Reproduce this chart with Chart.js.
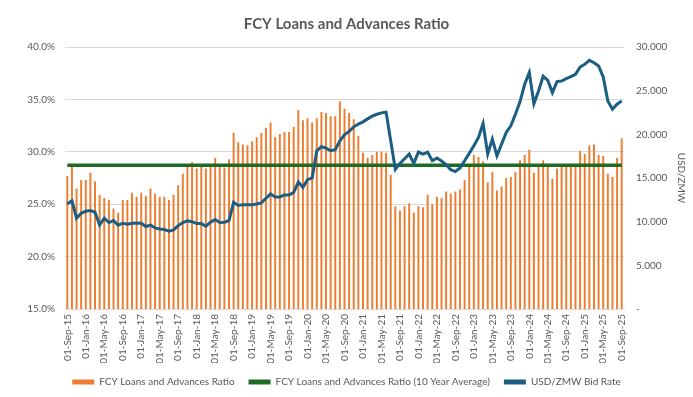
<!DOCTYPE html>
<html>
<head>
<meta charset="utf-8">
<script src="https://cdn.jsdelivr.net/npm/chart.js@4.4.1/dist/chart.umd.min.js"></script>
<style>
  html, body { margin: 0; padding: 0; background: #ffffff; }
  #wrap { width: 693px; height: 397px; position: relative; }
</style>
</head>
<body>
<div id="wrap"><canvas id="c" width="693" height="397"></canvas></div>
<script>
const months = [
  '01-Sep-15','01-Oct-15','01-Nov-15','01-Dec-15',
  '01-Jan-16','01-Feb-16','01-Mar-16','01-Apr-16','01-May-16','01-Jun-16','01-Jul-16','01-Aug-16','01-Sep-16','01-Oct-16','01-Nov-16','01-Dec-16',
  '01-Jan-17','01-Feb-17','01-Mar-17','01-Apr-17','01-May-17','01-Jun-17','01-Jul-17','01-Aug-17','01-Sep-17','01-Oct-17','01-Nov-17','01-Dec-17',
  '01-Jan-18','01-Feb-18','01-Mar-18','01-Apr-18','01-May-18','01-Jun-18','01-Jul-18','01-Aug-18','01-Sep-18','01-Oct-18','01-Nov-18','01-Dec-18',
  '01-Jan-19','01-Feb-19','01-Mar-19','01-Apr-19','01-May-19','01-Jun-19','01-Jul-19','01-Aug-19','01-Sep-19','01-Oct-19','01-Nov-19','01-Dec-19',
  '01-Jan-20','01-Feb-20','01-Mar-20','01-Apr-20','01-May-20','01-Jun-20','01-Jul-20','01-Aug-20','01-Sep-20','01-Oct-20','01-Nov-20','01-Dec-20',
  '01-Jan-21','01-Feb-21','01-Mar-21','01-Apr-21','01-May-21','01-Jun-21','01-Jul-21','01-Aug-21','01-Sep-21','01-Oct-21','01-Nov-21','01-Dec-21',
  '01-Jan-22','01-Feb-22','01-Mar-22','01-Apr-22','01-May-22','01-Jun-22','01-Jul-22','01-Aug-22','01-Sep-22','01-Oct-22','01-Nov-22','01-Dec-22',
  '01-Jan-23','01-Feb-23','01-Mar-23','01-Apr-23','01-May-23','01-Jun-23','01-Jul-23','01-Aug-23','01-Sep-23','01-Oct-23','01-Nov-23','01-Dec-23',
  '01-Jan-24','01-Feb-24','01-Mar-24','01-Apr-24','01-May-24','01-Jun-24','01-Jul-24','01-Aug-24','01-Sep-24','01-Oct-24','01-Nov-24','01-Dec-24',
  '01-Jan-25','01-Feb-25','01-Mar-25','01-Apr-25','01-May-25','01-Jun-25','01-Jul-25','01-Aug-25','01-Sep-25'
];

// FCY Loans and Advances Ratio (%)
const fcyRatio = [
  27.7, 28.8, 26.5, 27.3, 27.3, 28.0, 27.2, 25.9, 25.6, 25.4,
  24.6, 24.2, 25.4, 25.4, 26.1, 25.7, 26.1, 25.8, 26.5, 26.0,
  25.7, 25.7, 25.4, 25.9, 26.8, 27.9, 28.6, 29.0, 28.4, 28.7,
  28.4, 28.7, 29.4, 28.7, 28.5, 29.3, 31.8, 30.9, 30.7, 30.6,
  31.0, 31.4, 31.8, 32.3, 32.8, 31.4, 31.7, 31.9, 31.9, 32.4,
  34.0, 33.0, 33.2, 32.8, 33.2, 33.8, 33.7, 33.4, 33.4, 34.8,
  34.1, 33.7, 33.1, 31.5, 29.9, 29.4, 29.7, 30.0, 30.0, 29.9,
  27.8, 24.8, 24.4, 24.8, 25.1, 24.2, 24.8, 24.7, 25.9, 25.0,
  25.7, 25.6, 26.2, 26.0, 26.2, 26.4, 27.3, 28.7, 29.7, 29.5,
  29.1, 27.1, 28.1, 26.3, 26.7, 27.5, 27.6, 28.1, 29.2, 29.7,
  30.2, 28.0, 28.6, 29.2, 28.6, 27.4, 28.4, 28.6, 28.6, 28.6,
  28.6, 30.1, 29.8, 30.6, 30.7, 29.7, 29.6, 27.9, 27.6, 29.4,
  31.3
];

// FCY Loans and Advances Ratio (10 Year Average, %)
const tenYearAverage = 28.72;

// USD/ZMW Bid Rate
const usdZmw = [
  12.03, 12.40, 10.40, 10.96, 11.20, 11.27, 11.08, 9.63, 10.40, 9.90,
  10.13, 9.60, 9.82, 9.70, 9.82, 9.86, 9.82, 9.44, 9.60, 9.29,
  9.17, 9.10, 8.90, 9.06, 9.55, 9.90, 10.09, 10.00, 9.78, 9.78,
  9.48, 9.94, 10.24, 9.90, 9.94, 10.13, 12.22, 11.86, 11.95, 11.95,
  11.95, 12.03, 12.14, 12.68, 13.17, 12.83, 12.83, 13.06, 13.06, 13.36,
  14.54, 13.93, 14.81, 15.00, 18.12, 18.58, 18.42, 18.12, 18.23, 19.26,
  19.95, 20.33, 20.86, 21.17, 21.43, 21.77, 22.08, 22.30, 22.46, 22.53,
  19.26, 15.99, 16.67, 17.20, 17.74, 16.67, 17.97, 17.74, 17.97, 16.98,
  17.28, 16.94, 16.52, 15.95, 15.74, 16.14, 16.98, 17.82, 18.69, 19.64,
  21.24, 17.74, 19.45, 17.55, 18.88, 20.21, 20.97, 22.30, 23.75, 25.73,
  27.07, 23.52, 24.97, 26.65, 26.19, 24.78, 26.04, 26.11, 26.38, 26.60,
  26.87, 27.71, 28.02, 28.47, 28.20, 27.83, 26.57, 23.83, 22.88, 23.45,
  23.83
];

const leftTicks = [15, 20, 25, 30, 35, 40];
const rightTicks = [0, 5, 10, 15, 20, 25, 30];

const FONT = "Lato, 'Open Sans', sans-serif";
const GREY = '#595959';
const ORANGE = '#ED7D31';
const GREEN = '#1F6B24';
const BLUE = '#1B5E82';

const avgLine = months.map(() => tenYearAverage);

new Chart(document.getElementById('c'), {
  data: {
    labels: months,
    datasets: [
      {
        type: 'bar',
        label: 'FCY Loans and Advances Ratio',
        data: fcyRatio,
        backgroundColor: ORANGE,
        borderWidth: 0,
        barPercentage: 0.9,
        categoryPercentage: 0.47,
        yAxisID: 'y',
        order: 3
      },
      {
        type: 'line',
        label: 'FCY Loans and Advances Ratio (10 Year Average)',
        data: avgLine,
        borderColor: GREEN,
        backgroundColor: GREEN,
        borderWidth: 3.5,
        pointRadius: 0,
        yAxisID: 'y',
        order: 2
      },
      {
        type: 'line',
        label: 'USD/ZMW Bid Rate',
        data: usdZmw,
        borderColor: BLUE,
        backgroundColor: BLUE,
        borderWidth: 3,
        pointRadius: 0,
        tension: 0,
        yAxisID: 'y2',
        order: 1
      }
    ]
  },
  options: {
    responsive: false,
    animation: false,
    layout: { padding: { top: 0, left: 0, right: 0, bottom: 0 } },
    plugins: {
      title: {
        display: true,
        text: 'FCY Loans and Advances Ratio',
        color: GREY,
        font: { family: FONT, size: 15, weight: 'bold' },
        padding: { top: 15, bottom: 14 }
      },
      legend: {
        position: 'bottom',
        labels: {
          color: GREY,
          font: { family: FONT, size: 10 },
          boxWidth: 22,
          boxHeight: 5,
          padding: 14,
          generateLabels: (chart) => chart.data.datasets.map((ds, i) => ({
            text: ds.label,
            fillStyle: ds.backgroundColor,
            strokeStyle: ds.backgroundColor,
            lineWidth: 0,
            hidden: false,
            datasetIndex: i,
            fontColor: GREY
          }))
        }
      },
      tooltip: { enabled: false }
    },
    scales: {
      x: {
        offset: true,
        grid: { display: false, drawTicks: false },
        border: { display: true, color: '#D9D9D9' },
        ticks: {
          autoSkip: false,
          maxRotation: 90,
          minRotation: 90,
          color: GREY,
          font: { family: FONT, size: 10 },
          padding: 5,
          callback: function (value, index) {
            return index % 4 === 0 ? months[index] : '';
          }
        },
        afterFit: (s) => { s.height = 54; }
      },
      y: {
        position: 'left',
        min: 15,
        max: 40,
        afterBuildTicks: (s) => { s.ticks = leftTicks.map(v => ({ value: v })); },
        grid: { color: '#D9D9D9', drawTicks: false },
        border: { display: false },
        ticks: {
          color: GREY,
          font: { family: FONT, size: 10 },
          padding: 10,
          callback: (v) => v.toFixed(1) + '%'
        },
        afterFit: (s) => { s.width = 65; }
      },
      y2: {
        position: 'right',
        min: 0,
        max: 30,
        afterBuildTicks: (s) => { s.ticks = rightTicks.map(v => ({ value: v })); },
        grid: { drawOnChartArea: false, drawTicks: false },
        border: { display: false },
        title: {
          display: true,
          text: 'USD/ZMW',
          color: GREY,
          font: { family: FONT, size: 10 },
          padding: { top: 6, bottom: 0 }
        },
        ticks: {
          color: GREY,
          font: { family: FONT, size: 10 },
          padding: 12,
          callback: (v) => v === 0 ? '-' : v.toFixed(3)
        },
        afterFit: (s) => { s.width = 69; }
      }
    }
  }
});
</script>
</body>
</html>
